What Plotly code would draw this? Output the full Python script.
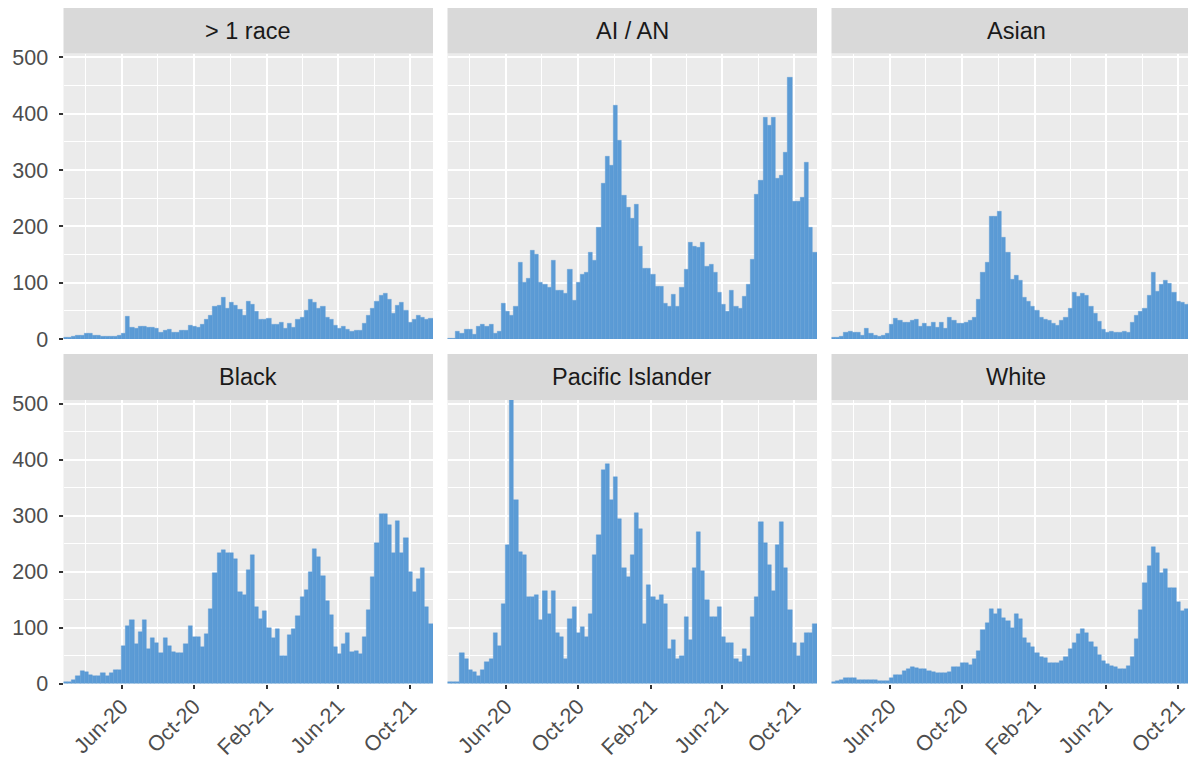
import plotly.graph_objects as go
import pandas as pd

# ---------------- data (weekly counts) ----------------
first_week = "2020-02-24"
n_weeks = 89

groups = ["> 1 race", "AI / AN", "Asian", "Black", "Pacific Islander", "White"]

multi_race = [2, 3, 4, 7, 7, 10, 9, 7, 7, 5, 5, 5, 5, 7, 10, 40, 21, 18, 23, 22,
              21, 21, 18, 12, 15, 17, 11, 12, 15, 15, 24, 23, 20, 26, 35, 41, 57, 60, 73, 54,
              65, 60, 52, 42, 67, 61, 49, 34, 34, 36, 26, 26, 29, 18, 27, 21, 35, 39, 51, 71,
              64, 54, 57, 39, 35, 24, 19, 23, 17, 13, 15, 15, 27, 42, 54, 67, 77, 80, 70, 46,
              60, 64, 50, 30, 35, 42, 39, 35, 36]

ai_an = [1, 1, 14, 10, 17, 17, 8, 23, 25, 23, 26, 10, 13, 63, 49, 42, 57, 135, 100, 108,
         158, 150, 100, 96, 92, 139, 87, 87, 81, 123, 68, 100, 115, 118, 154, 139, 198, 276, 324, 308,
         415, 353, 254, 234, 214, 238, 165, 126, 126, 115, 93, 93, 63, 57, 79, 57, 92, 124, 171, 165,
         162, 171, 128, 132, 118, 83, 61, 49, 86, 57, 55, 76, 97, 141, 256, 281, 393, 380, 393, 285,
         290, 332, 465, 245, 245, 252, 314, 198, 154]

asian = [2, 2, 5, 11, 14, 11, 11, 6, 18, 9, 7, 4, 7, 10, 25, 36, 32, 29, 29, 32,
         35, 23, 28, 23, 29, 21, 29, 18, 38, 33, 27, 27, 30, 32, 39, 71, 118, 136, 218, 217,
         226, 181, 154, 105, 112, 104, 73, 67, 57, 51, 38, 35, 32, 28, 24, 32, 39, 54, 82, 76,
         80, 77, 58, 46, 31, 16, 12, 14, 12, 12, 13, 12, 30, 42, 49, 55, 77, 118, 85, 96,
         104, 98, 82, 67, 65, 61, 64, 61, 60]

black = [2, 2, 7, 13, 23, 20, 16, 14, 14, 18, 14, 19, 24, 25, 67, 103, 114, 70, 92, 114,
         61, 81, 73, 54, 81, 67, 56, 54, 54, 71, 103, 84, 84, 66, 88, 134, 197, 234, 239, 233,
         233, 223, 164, 158, 203, 230, 136, 115, 130, 100, 81, 97, 50, 50, 87, 98, 121, 155, 167, 200,
         240, 226, 193, 147, 122, 66, 52, 71, 90, 57, 58, 52, 83, 132, 190, 252, 304, 303, 283, 233,
         291, 233, 260, 200, 163, 186, 207, 136, 107]

pacific = [2, 2, 2, 55, 43, 25, 20, 14, 25, 38, 43, 90, 67, 142, 248, 507, 329, 236, 230, 154,
           154, 159, 113, 165, 125, 165, 90, 84, 44, 115, 137, 90, 101, 84, 125, 230, 266, 382, 393, 329,
           370, 294, 207, 190, 230, 305, 276, 107, 176, 154, 149, 159, 142, 61, 78, 44, 49, 119, 78, 207,
           271, 201, 149, 119, 119, 136, 84, 72, 72, 43, 38, 61, 49, 119, 154, 288, 252, 212, 165, 248,
           288, 207, 131, 72, 49, 72, 90, 90, 107]

white = [3, 4, 6, 9, 10, 9, 7, 7, 7, 7, 7, 5, 5, 5, 9, 15, 16, 22, 26, 30,
         27, 26, 26, 22, 20, 19, 19, 19, 21, 30, 30, 37, 37, 33, 43, 59, 95, 109, 133, 124,
         133, 118, 112, 100, 125, 116, 81, 73, 66, 55, 48, 45, 37, 36, 36, 41, 48, 61, 72, 88,
         97, 91, 75, 66, 51, 40, 35, 31, 30, 26, 26, 31, 48, 79, 132, 180, 211, 245, 234, 197,
         205, 170, 170, 145, 129, 133, 131, 118, 115]

series = [multi_race, ai_an, asian, black, pacific, white]

x_tick_dates = ["2020-06-01", "2020-10-01", "2021-02-01", "2021-06-01", "2021-10-01"]
x_tick_labels = ["Jun-20", "Oct-20", "Feb-21", "Jun-21", "Oct-21"]
x_minor_dates = ["2020-04-01", "2020-08-01", "2020-12-01", "2021-04-02", "2021-08-01"]
y_ticks = [0, 100, 200, 300, 400, 500]
y_minor = [50, 150, 250, 350, 450]
y_max = 507

# ---------------- layout geometry (page pixels) ----------------
PAGE_W, PAGE_H = 1196, 762
OFF = 8  # the page body margin places the figure at (8, 8)
W, H = PAGE_W - OFF, PAGE_H - OFF

start = pd.Timestamp(first_week)
week_starts = pd.date_range(start, periods=n_weeks, freq="7D")
centers = week_starts + pd.Timedelta(hours=84)
x_end = start + pd.Timedelta(days=7 * n_weeks)
bar_width_ms = 7 * 86400000

cols_px = [(63.5, 433.0), (447.5, 817.0), (831.5, 1196.0)]
rows_px = [(53.5, 339.0), (400.0, 683.5)]
strip_h = 46.0
full_w = cols_px[0][1] - cols_px[0][0]
px_per_day = full_w / (7 * n_weeks)

TICK_SIZE = 21.5
STRIP_SIZE = 23.5

def fx(p):
    return min(1.0, (p - OFF) / W)

def fy(p):
    return 1 - (p - OFF) / H

fig = go.Figure()
layout = dict(
    template="none",
    width=W, height=H,
    margin=dict(l=0, r=0, t=0, b=0, pad=0),
    paper_bgcolor="white",
    plot_bgcolor="#EBEBEB",
    showlegend=False,
    bargap=0,
    font=dict(family="Liberation Sans, Arial, sans-serif", size=TICK_SIZE, color="#4D4D4D"),
)
shapes = []
annotations = []

for k, (name, vals) in enumerate(zip(groups, series)):
    r, c = divmod(k, 3)
    idx = "" if k == 0 else str(k + 1)
    xa, ya = "x" + idx, "y" + idx
    fig.add_trace(go.Bar(
        x=centers, y=vals, width=bar_width_ms,
        marker=dict(color="#5B9BD5", line=dict(color="#5B9BD5", width=0.4)),
        xaxis=xa, yaxis=ya, hoverinfo="x+y",
    ))
    x0p, x1p = cols_px[c]
    y0p, y1p = rows_px[r]
    xr_end = x_end
    if (x1p - x0p) < full_w - 0.5:
        # right-most panels are cut by the picture edge
        xr_end = start + pd.Timedelta(days=(x1p - x0p) / px_per_day)
    layout["xaxis" + idx] = dict(
        domain=[fx(x0p), fx(x1p)], anchor=ya, automargin=False,
        type="date", range=[start, xr_end],
        tickmode="array", tickvals=x_tick_dates, ticktext=x_tick_labels,
        tickangle=-45,
        showgrid=True, gridcolor="white", gridwidth=2.2,
        minor=dict(tickmode="array", tickvals=x_minor_dates, showgrid=True,
                   gridcolor="white", gridwidth=1.1, ticks=""),
        zeroline=False, showline=False,
        ticks="outside" if r == 1 else "", ticklen=4, tickwidth=2, tickcolor="#333333",
        showticklabels=(r == 1), ticklabelstandoff=-3,
        tickfont=dict(size=TICK_SIZE, color="#4D4D4D"),
        fixedrange=True,
    )
    layout["yaxis" + idx] = dict(
        domain=[fy(y1p), fy(y0p)], anchor=xa, automargin=False,
        range=[0, y_max],
        tickmode="array", tickvals=y_ticks,
        showgrid=True, gridcolor="white", gridwidth=2.2,
        minor=dict(tickmode="array", tickvals=y_minor, showgrid=True,
                   gridcolor="white", gridwidth=1.1, ticks=""),
        zeroline=False, showline=False,
        ticks="outside" if c == 0 else "", ticklen=4, tickwidth=2, tickcolor="#333333",
        showticklabels=(c == 0), ticklabelstandoff=6,
        tickfont=dict(size=TICK_SIZE, color="#4D4D4D"),
        fixedrange=True,
    )
    # facet strip
    shapes.append(dict(type="rect", xref="paper", yref="paper",
                       x0=fx(x0p), x1=fx(x1p), y0=fy(y0p), y1=fy(y0p - strip_h),
                       fillcolor="#D9D9D9", line=dict(width=0), layer="below"))
    annotations.append(dict(text=name, xref="paper", yref="paper",
                            x=(x0p + full_w / 2 - OFF) / W,
                            y=fy(y0p - strip_h / 2), showarrow=False,
                            xanchor="center", yanchor="middle",
                            font=dict(size=STRIP_SIZE, color="#1A1A1A")))

layout["shapes"] = shapes
layout["annotations"] = annotations
fig.update_layout(**layout)
fig.write_html("out.html")
